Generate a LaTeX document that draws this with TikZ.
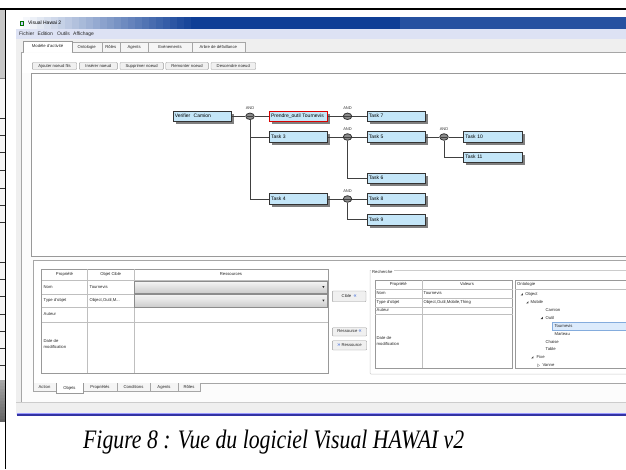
\documentclass[tikz,border=0pt]{standalone}
\usepackage{fontspec}
\setsansfont{Liberation Sans}
\newfontfamily\capfont{Liberation Serif}
\usetikzlibrary{shadows,shapes.geometric}
\definecolor{taskblue}{HTML}{C4E6F8}
\definecolor{menubg}{HTML}{DDE2F4}
\definecolor{tabbg}{HTML}{EFEFEF}
\definecolor{selblue}{HTML}{DCEBFC}
\definecolor{selborder}{HTML}{84ACDD}
\definecolor{chev}{HTML}{2A5BD7}
\definecolor{ddtop}{HTML}{F6F6F6}
\definecolor{ddbot}{HTML}{CFCFCF}
\definecolor{navy}{HTML}{0E3E96}
\begin{document}
\begin{tikzpicture}[x=1pt,y=-1pt,
  ui/.style={font=\sffamily\fontsize{5}{6}\selectfont, inner sep=0pt, text=black!85, text height=3.6pt, text depth=1pt},
  uis/.style={font=\sffamily\fontsize{4.2}{5}\selectfont, inner sep=0pt, text=black!85, text height=3pt, text depth=0.9pt},
  task/.style={draw=black!80, line width=0.8pt, fill=taskblue, minimum width=58.3pt,
    minimum height=10.5pt, text width=55pt, inner xsep=1.6pt, inner ysep=0pt, anchor=west, align=left,
    font=\sffamily\fontsize{5}{6}\selectfont, text height=3.6pt, text depth=1pt,
    drop shadow={shadow xshift=2.6pt, shadow yshift=-2.6pt, opacity=1, fill=black!50}},
  gate/.style={ellipse, draw=black!80, fill=black!45, minimum width=8.5pt, minimum height=6.5pt,
    inner sep=0pt, line width=0.8pt,
    path picture={\draw[black!75, line width=0.6pt] ([xshift=1pt]path picture bounding box.west) -- ([xshift=-1pt]path picture bounding box.east);}},
  andlbl/.style={font=\sffamily\fontsize{4}{5}\selectfont, inner sep=0pt, text=black!80},
  conn/.style={draw=black!75, line width=0.8pt},
  uibtn/.style={draw=black!40, fill=black!6, rounded corners=0.8pt, line width=0.4pt},
  tabx/.style={draw=black!35, fill=black!4, line width=0.4pt},
  grid/.style={draw=black!25, line width=0.4pt},
  frame/.style={draw=black!35, line width=0.5pt},
  barseg/.style={inner sep=0pt, outer sep=0pt, minimum height=12pt, anchor=north west, draw=none}
]
\useasboundingbox (0,0) rectangle (626,469);

% ---------- left strip (clipped neighbour image) ----------
\fill[black!22] (0,10) rectangle (4.6,78);
\fill[black!4] (0,78) rectangle (4.6,380);
\foreach \i in {0,...,13}
  \fill[black!\the\numexpr 35+\i*2\relax] (0,380+3*\i) rectangle (4.6,383.2+3*\i);
\foreach \yy in {118,135,152,170,188,205,222,262,279,296,314,331,348,365}
  \draw[black!80, line width=0.5pt] (0,\yy) -- (4.6,\yy);
\draw[black!50, line width=0.5pt] (0,78) -- (4.6,78);

% ---------- window ----------
\fill[tabbg] (16,29) rectangle (626,415);
\fill[menubg] (16,29) rectangle (626,39);
\node[ui, anchor=west] (m1) at (19,33.8) {Fichier};
\node[ui, anchor=west] (m2) at (37.5,33.8) {Edition};
\node[ui, anchor=west] (m3) at (57,33.8) {Outils};
\node[ui, anchor=west] (m4) at (73,33.8) {Affichage};

% title bar as nodes
\node[barseg, fill=navy, minimum width=610pt] (tbar) at (16,17) {};
\foreach \i in {0,...,24} {
  \pgfmathtruncatemacro\pc{100-\i*4}
  \node[barseg, fill=white!\pc!navy, minimum width=7.4pt] (ts\i) at (16+7*\i,17) {};
}
\node[barseg, fill=white!10!navy, minimum width=226pt] (tr) at (400,17) {};
\fill[green!45!black] (19.5,21) rectangle (24,26);
\fill[white!80!blue] (20.5,22) rectangle (23,25);
\node[ui, anchor=west, text=black] (title) at (28,23.5) {Visual Hawai 2};

% tab page
\fill[black!1] (21,52) rectangle (626,402);
\draw[frame] (21,52) -- (21,402) -- (626,402);
\draw[frame] (21,52) -- (24,52) (71.7,52) -- (626,52);
% top tabs
\draw[tabx] (71.7,52) -- (71.7,42.5) -- (101.7,42.5) -- (101.7,52);
\draw[tabx] (101.7,52) -- (101.7,42.5) -- (120,42.5) -- (120,52);
\draw[tabx] (120,52) -- (120,42.5) -- (148.3,42.5) -- (148.3,52);
\draw[tabx] (148.3,52) -- (148.3,42.5) -- (191.7,42.5) -- (191.7,52);
\draw[tabx] (191.7,52) -- (191.7,42.5) -- (245,42.5) -- (245,52);
\filldraw[fill=white, draw=black!40, line width=0.4pt] (23.5,52.3) -- (23.5,40.8) -- (71.7,40.8) -- (71.7,52.3);
\node[uis] (tb1) at (47.6,46.5) {Modèle d'activité};
\node[uis] (tb2) at (86.7,47.2) {Ontologie};
\node[uis] (tb3) at (110.8,47.2) {Rôles};
\node[uis] (tb4) at (134.1,47.2) {Agents};
\node[uis] (tb5) at (170,47.2) {Evènements};
\node[uis] (tb6) at (218.3,47.2) {Arbre de défaillance};

% button bar
\fill[white] (22,53) rectangle (626,73);
\draw[uibtn] (32.3,62.5) rectangle (76.7,69.5);
\draw[uibtn] (79.3,62.5) rectangle (117.3,69.5);
\draw[uibtn] (120,62.5) rectangle (163.3,69.5);
\draw[uibtn] (165.7,62.5) rectangle (208.3,69.5);
\draw[uibtn] (211,62.5) rectangle (255.7,69.5);
\node[uis] (b1) at (54.5,66) {Ajouter noeud fils};
\node[uis] (b2) at (98.3,66) {Insérer noeud};
\node[uis] (b3) at (141.7,66) {Supprimer noeud};
\node[uis] (b4) at (187,66) {Remonter noeud};
\node[uis] (b5) at (233.3,66) {Descendre noeud};

% canvas
\filldraw[fill=white, draw=black!40, line width=0.5pt] (31.5,73.5) rectangle (627,256);

% ---------- activity tree ----------
\node[task] (vc) at (172.7,116.3) {Verifier\ \ Camion};
\node[task, draw=red!85!black] (po) at (269,116.3) {Prendre\_outil Tournevis};
\node[task] (t7) at (366.7,116.3) {Task 7};
\node[task] (t3) at (269,137) {Task 3};
\node[task] (t5) at (366.7,137) {Task 5};
\node[task] (t10) at (463.3,137) {Task 10};
\node[task] (t11) at (463.3,157.5) {Task 11};
\node[task] (t6) at (366.7,178.3) {Task 6};
\node[task] (t4) at (269,199) {Task 4};
\node[task] (t8) at (366.7,199) {Task 8};
\node[task] (t9) at (366.7,219.7) {Task 9};

\node[gate] (g1) at (250,116.3) {};
\node[gate] (g2) at (347.5,116.3) {};
\node[gate] (g3) at (347.5,137) {};
\node[gate] (g4) at (444,137) {};
\node[gate] (g5) at (347.5,199) {};
\node[andlbl] (a1) at (250,108.2) {AND};
\node[andlbl] (a2) at (347.5,108.2) {AND};
\node[andlbl] (a3) at (347.5,128.9) {AND};
\node[andlbl] (a4) at (444,128.9) {AND};
\node[andlbl] (a5) at (347.5,190.9) {AND};

\draw[conn] (vc.east) -- (g1.west);
\draw[conn] (g1.east) -- (po.west);
\draw[conn] (g1.south) |- (t3.west);
\draw[conn] (g1.south) |- (t4.west);
\draw[conn] (po.east) -- (g2.west);
\draw[conn] (g2.east) -- (t7.west);
\draw[conn] (t3.east) -- (g3.west);
\draw[conn] (g3.east) -- (t5.west);
\draw[conn] (g3.south) |- (t6.west);
\draw[conn] (t5.east) -- (g4.west);
\draw[conn] (g4.east) -- (t10.west);
\draw[conn] (g4.south) |- (t11.west);
\draw[conn] (t4.east) -- (g5.west);
\draw[conn] (g5.east) -- (t8.west);
\draw[conn] (g5.south) |- (t9.west);

% ---------- bottom panel ----------
\filldraw[fill=white, draw=black!35, line width=0.5pt] (33,260) rectangle (627,383);

% left table
\filldraw[fill=white, draw=black!40, line width=0.5pt] (41.7,269) rectangle (328.3,373.3);
\draw[grid] (41.7,280) -- (328.3,280);
\draw[grid] (41.7,294) -- (328.3,294);
\draw[grid] (41.7,307.3) -- (328.3,307.3);
\draw[grid] (41.7,321.7) -- (328.3,321.7);
\draw[grid] (87.3,269) -- (87.3,373.3);
\draw[grid] (134,269) -- (134,373.3);
\node[uis] (h1) at (64.5,274.5) {Propriété};
\node[uis] (h2) at (110.7,274.5) {Objet Cible};
\node[uis] (h3) at (231,274.5) {Ressources};
\node[uis, anchor=west] (r1) at (43.5,287) {Nom};
\node[uis, anchor=west] (r2) at (43.5,300.7) {Type d'objet};
\node[uis, anchor=west] (r3) at (43.5,314.5) {Auteur};
\node[uis, anchor=west, align=left] (r4) at (43.5,347.5) {Date de\\[1pt]modification};
\node[uis, anchor=west] (v1) at (89.5,287) {Tournevis};
\node[uis, anchor=west] (v2) at (89.5,300.7) {Object,Outil,M...};
% dropdowns (stepped gradient)
\foreach \i in {0,...,11} {
  \pgfmathtruncatemacro\pc{\i*100/11}
  \fill[ddbot!\pc!ddtop] (134.5,280.8+\i*1.04) rectangle (327.5,281.9+\i*1.04);
  \fill[ddbot!\pc!ddtop] (134.5,294.3+\i*1.05) rectangle (327.5,295.4+\i*1.05);
}
\draw[black!45, line width=0.4pt] (134.5,280.8) rectangle (327.5,293.3);
\draw[black!45, line width=0.4pt] (134.5,294.3) rectangle (327.5,306.9);
\fill[black!85] (322.3,286) -- (324.5,286) -- (323.4,288) -- cycle;
\fill[black!85] (322.3,299.6) -- (324.5,299.6) -- (323.4,301.6) -- cycle;

% middle buttons
\draw[uibtn] (332.3,291) rectangle (366,301.7);
\draw[uibtn] (332.3,327.7) rectangle (366.7,336);
\draw[uibtn] (332.3,340.7) rectangle (366.7,350);
\node[uis] (cb) at (349.2,296.4) {Cible\ \ {\color{chev}\fontsize{5.5}{6}\selectfont«}};
\node[uis] (rb1) at (349.5,331.9) {Ressource {\color{chev}\fontsize{5.5}{6}\selectfont«}};
\node[uis] (rb2) at (349.5,345.4) {{\color{chev}\fontsize{5.5}{6}\selectfont»} Ressource};

% Recherche group
\draw[black!20, line width=0.5pt, rounded corners=1pt] (370,270) -- (370,374) -- (627,374);
\draw[black!20, line width=0.5pt] (370,270) -- (371,270) (394,270) -- (627,270);
\node[uis, anchor=west] (rech) at (372,272.7) {Recherche};
\filldraw[fill=white, draw=black!40, line width=0.5pt] (375,280) rectangle (512.7,368.3);
\draw[grid] (375,289.3) -- (512.7,289.3);
\draw[grid] (375,297.7) -- (512.7,297.7);
\draw[grid] (375,306.7) -- (512.7,306.7);
\draw[grid] (375,314.3) -- (512.7,314.3);
\draw[grid] (421.7,280) -- (421.7,368.3);
\node[uis] (rh1) at (398.3,284.8) {Propriété};
\node[uis] (rh2) at (467,284.8) {Valeurs};
\node[uis, anchor=west] (rr1) at (376.5,293.5) {Nom};
\node[uis, anchor=west] (rr2) at (376.5,302.2) {Type d'objet};
\node[uis, anchor=west] (rr3) at (376.5,310.5) {Auteur};
\node[uis, anchor=west, align=left] (rr4) at (376.5,344.8) {Date de\\[1pt]modification};
\node[uis, anchor=west] (rv1) at (423.5,293.5) {Tournevis};
\node[uis, anchor=west] (rv2) at (423.5,302.2) {Object,Outil,Mobile,Thing};

% Ontologie tree
\filldraw[fill=white, draw=black!40, line width=0.5pt] (515,280) rectangle (627,368.3);
\draw[grid] (515,289.3) -- (627,289.3);
\node[uis, anchor=west] (oh) at (517,284.8) {Ontologie};
\filldraw[fill=selblue, draw=selborder, line width=0.4pt] (551.7,322.5) rectangle (627,330.2);
\foreach \tx/\ty in {521.7/294.3, 527.3/302.3, 541.7/318, 532.3/357.3}
  \fill[black!75] (\tx+1.1,\ty-1.1) -- (\tx+1.1,\ty+1.1) -- (\tx-1.1,\ty+1.1) -- cycle;
\draw[black!40, line width=0.3pt] (537.6,363.8) -- (539.6,365.3) -- (537.6,366.8) -- cycle;
\node[uis, anchor=west] (o1) at (525.2,294.3) {Object};
\node[uis, anchor=west] (o2) at (530.5,302.3) {Mobile};
\node[uis, anchor=west] (o3) at (545.5,310.3) {Camion};
\node[uis, anchor=west] (o4) at (545.5,318) {Outil};
\node[uis, anchor=west] (o5) at (554.3,326.3) {Tournevis};
\node[uis, anchor=west] (o6) at (554.3,334) {Marteau};
\node[uis, anchor=west] (o7) at (545.5,342) {Chaise};
\node[uis, anchor=west] (o8) at (545.5,349.3) {Table};
\node[uis, anchor=west] (o9) at (536.5,357.3) {Fixe};
\node[uis, anchor=west] (o10) at (542.3,365.3) {Vanne};

% bottom tabs
\draw[tabx] (33,383) -- (33,391.5) -- (56,391.5) -- (56,383);
\draw[tabx] (83,383) -- (83,391.5) -- (117,391.5) -- (117,383);
\draw[tabx] (117,383) -- (117,391.5) -- (150,391.5) -- (150,383);
\draw[tabx] (150,383) -- (150,391.5) -- (178,391.5) -- (178,383);
\draw[tabx] (178,383) -- (178,391.5) -- (200,391.5) -- (200,383);
\filldraw[fill=white, draw=black!40, line width=0.4pt] (56,382.8) -- (56,392.8) -- (83,392.8) -- (83,382.8);
\node[uis] (bt1) at (44.5,387.3) {Action};
\node[uis] (bt2) at (69.5,388) {Objets};
\node[uis] (bt3) at (100,387.3) {Propriétés};
\node[uis] (bt4) at (133.5,387.3) {Conditions};
\node[uis] (bt5) at (164,387.3) {Agents};
\node[uis] (bt6) at (189,387.3) {Rôles};

% window bottom edge
\draw[black!20, line width=0.5pt] (16,402.5) -- (626,402.5);
\draw[blue!55!black!80, line width=1.3pt] (17,415) -- (626,415);
\draw[white!60!blue, line width=0.5pt] (17,413.7) -- (626,413.7);

% ---------- outer frame ----------
\draw[black, line width=1.8pt] (0,9) -- (626,9);
\draw[black, line width=1.6pt] (5.4,8.2) -- (5.4,469);

% ---------- caption ----------
\node[anchor=base west, inner sep=0pt] (cap) at (83,448.3)
  {\resizebox{381pt}{18.5pt}{\capfont\itshape Figure 8 : Vue du logiciel Visual HAWAI v2}};
\end{tikzpicture}
\end{document}
